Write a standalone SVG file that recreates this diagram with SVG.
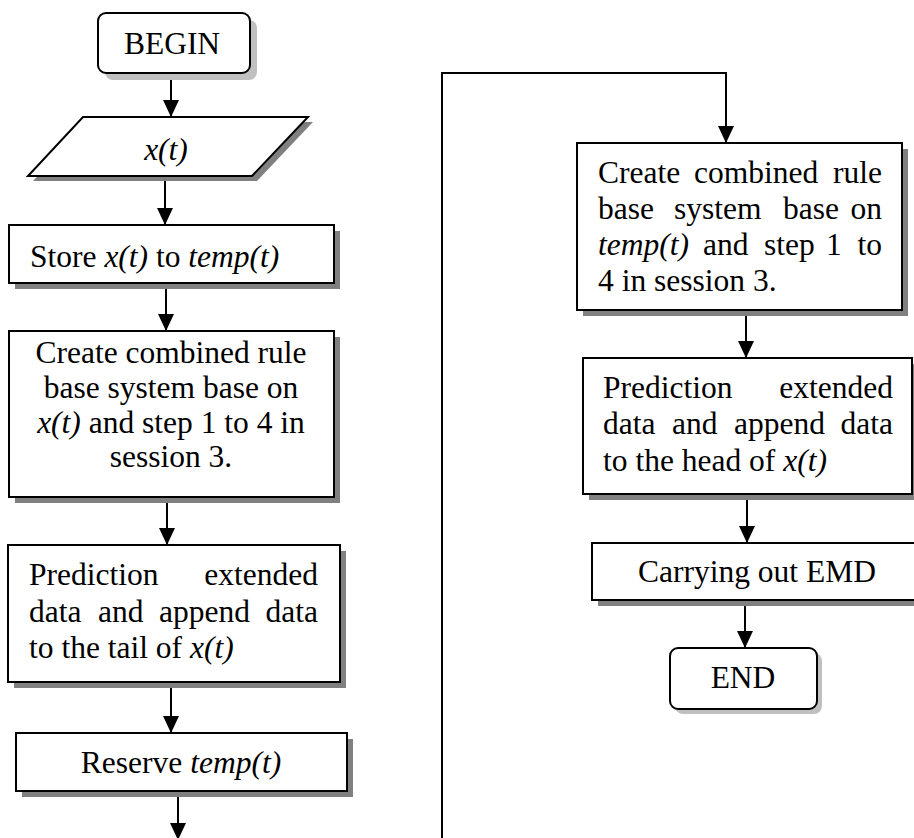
<svg xmlns="http://www.w3.org/2000/svg" width="914" height="838" viewBox="0 0 914 838">
<style>
  .box{fill:#fff;stroke:#000;stroke-width:2}
  .sh{fill:#808080}
  .shl{fill:#c0c0c0}
  .t{font-family:"Liberation Serif","Times New Roman",serif;font-size:31.5px;fill:#000}
  .c{text-anchor:middle}
  .e{text-anchor:end}
  .i{font-style:italic}
  .ln{fill:none;stroke:#000;stroke-width:2}
</style>
<defs>
  <marker id="arr" markerUnits="userSpaceOnUse" markerWidth="18" markerHeight="18" viewBox="0 0 18 18" refX="17" refY="9" orient="auto">
    <path d="M0,1 L17,9 L0,17 Z" fill="#000"/>
  </marker>
</defs>

<g id="connectors">
  <line class="ln" x1="171" y1="73" x2="171" y2="117" marker-end="url(#arr)"/>
  <line class="ln" x1="165" y1="176" x2="165" y2="225" marker-end="url(#arr)"/>
  <line class="ln" x1="166" y1="284" x2="166" y2="331" marker-end="url(#arr)"/>
  <line class="ln" x1="167" y1="498" x2="167" y2="545" marker-end="url(#arr)"/>
  <line class="ln" x1="171" y1="683" x2="171" y2="733" marker-end="url(#arr)"/>
  <line class="ln" x1="178" y1="792" x2="178" y2="840" marker-end="url(#arr)"/>
  <polyline class="ln" points="442,840 442,73 726,73 726,143" marker-end="url(#arr)"/>
  <line class="ln" x1="746" y1="311" x2="746" y2="358" marker-end="url(#arr)"/>
  <line class="ln" x1="747" y1="495" x2="747" y2="543" marker-end="url(#arr)"/>
  <line class="ln" x1="745" y1="601" x2="745" y2="648" marker-end="url(#arr)"/>
</g>

<g id="begin">
  <rect class="shl" x="105" y="20" width="152" height="60" rx="8"/>
  <rect class="box" x="98" y="13" width="152" height="60" rx="8"/>
  <text class="t c" x="172" y="54">BEGIN</text>
</g>

<g id="input">
  <polygon class="sh" points="88,122 313,122 257,181 33,181"/>
  <polygon class="box" points="83,117 308,117 252,176 28,176"/>
  <text class="t c i" x="166" y="160">x(t)</text>
</g>

<g id="store">
  <rect class="sh" x="15" y="231" width="325" height="58"/>
  <rect class="box" x="9" y="225" width="325" height="58"/>
  <text class="t" x="30" y="267">Store <tspan class="i">x(t)</tspan> to <tspan class="i">temp(t)</tspan></text>
</g>

<g id="create-left">
  <rect class="sh" x="15" y="337" width="325" height="166"/>
  <rect class="box" x="9" y="331" width="325" height="166"/>
  <text class="t c" x="171" y="363">Create combined rule</text>
  <text class="t c" x="171" y="398">base system base on</text>
  <text class="t c" x="171" y="433"><tspan class="i">x(t)</tspan> and step 1 to 4 in</text>
  <text class="t c" x="171" y="467">session 3.</text>
</g>

<g id="predict-left">
  <rect class="sh" x="14" y="551" width="332" height="137"/>
  <rect class="box" x="8" y="545" width="332" height="137"/>
  <text class="t" x="29" y="585">Prediction</text>
  <text class="t e" x="318" y="585">extended</text>
  <text class="t" x="29" y="622">data</text>
  <text class="t" x="98" y="622">and</text>
  <text class="t" x="159" y="622">append</text>
  <text class="t e" x="318" y="622">data</text>
  <text class="t" x="29" y="658">to the tail of <tspan class="i">x(t)</tspan></text>
</g>

<g id="reserve">
  <rect class="sh" x="22" y="739" width="331" height="58"/>
  <rect class="box" x="16" y="733" width="331" height="58"/>
  <text class="t c" x="181" y="773">Reserve <tspan class="i">temp(t)</tspan></text>
</g>

<g id="create-right">
  <rect class="sh" x="583" y="149" width="325" height="167"/>
  <rect class="box" x="577" y="143" width="325" height="167"/>
  <text class="t" x="598" y="183">Create</text>
  <text class="t" x="694" y="183">combined</text>
  <text class="t e" x="882" y="183">rule</text>
  <text class="t" x="598" y="219">base</text>
  <text class="t" x="674" y="219">system</text>
  <text class="t" x="783" y="219">base</text>
  <text class="t e" x="882" y="219">on</text>
  <text class="t i" x="598" y="255">temp(t)</text>
  <text class="t" x="703" y="255">and</text>
  <text class="t" x="764" y="255">step</text>
  <text class="t" x="826" y="255">1</text>
  <text class="t e" x="882" y="255">to</text>
  <text class="t" x="598" y="291">4 in session 3.</text>
</g>

<g id="predict-right">
  <rect class="sh" x="589" y="364" width="330" height="136"/>
  <rect class="box" x="583" y="358" width="329" height="136"/>
  <text class="t" x="603" y="398">Prediction</text>
  <text class="t e" x="893" y="398">extended</text>
  <text class="t" x="603" y="434">data</text>
  <text class="t" x="672" y="434">and</text>
  <text class="t" x="734" y="434">append</text>
  <text class="t e" x="893" y="434">data</text>
  <text class="t" x="603" y="471">to the head of <tspan class="i">x(t)</tspan></text>
</g>

<g id="emd">
  <rect class="sh" x="598" y="549" width="340" height="57"/>
  <rect class="box" x="592" y="543" width="340" height="57"/>
  <text class="t c" x="757" y="582">Carrying out EMD</text>
</g>

<g id="end">
  <rect class="shl" x="675" y="653" width="147" height="61" rx="8"/>
  <rect class="box" x="670" y="648" width="147" height="61" rx="8"/>
  <text class="t c" x="743" y="688">END</text>
</g>
</svg>
